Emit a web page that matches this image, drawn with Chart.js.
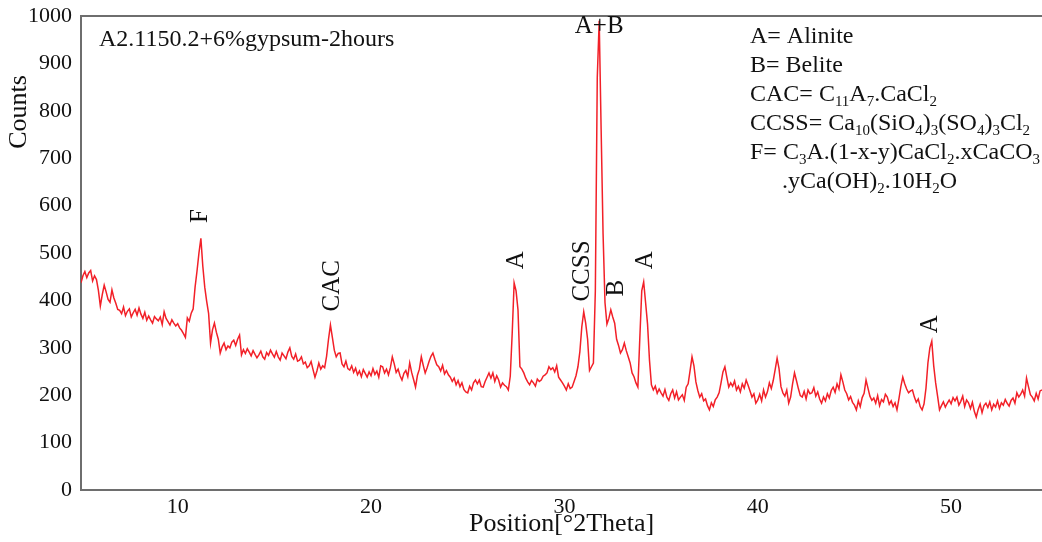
<!DOCTYPE html>
<html>
<head>
<meta charset="utf-8">
<script src="https://cdn.jsdelivr.net/npm/chart.js@4.4.1/dist/chart.umd.min.js"></script>
<style>
  html, body { margin: 0; padding: 0; background: #fff; }
  #wrap { width: 1042px; height: 542px; }
</style>
</head>
<body>
<div id="wrap"><canvas id="xrd" width="1042" height="542"></canvas></div>
<script>
// --- DATA (step 0.1 deg starting at 5.0 deg) ---
const START_2THETA = 5.0;
const STEP_2THETA = 0.1;
const counts = [
  437, 452, 461, 448, 458, 463, 441, 452, 444, 421,   // 5
  388, 412, 432, 418, 402, 396, 422, 405, 394, 381,   // 6
  379, 372, 386, 368, 377, 382, 365, 374, 381, 369,   // 7
  384, 371, 362, 375, 358, 367, 359, 352, 366, 361,   // 8
  357, 365, 349, 376, 362, 355, 348, 359, 352, 346,   // 9
  351, 342, 337, 330, 322, 363, 356, 373, 382, 428,   // 10
  462, 500, 531, 472, 428, 398, 372, 310, 338, 352,   // 11
  333, 318, 289, 302, 310, 296, 304, 300, 312, 316,   // 12
  305, 318, 327, 285, 296, 288, 298, 291, 283, 294,   // 13
  286, 279, 285, 293, 281, 276, 290, 284, 295, 287,   // 14
  280, 292, 281, 274, 289, 283, 277, 291, 300, 282,   // 15
  276, 287, 272, 274, 281, 266, 270, 258, 262, 271,   // 16
  254, 238, 251, 268, 255, 262, 258, 282, 318, 348,   // 17
  322, 295, 281, 288, 289, 266, 260, 272, 256, 253,   // 18
  262, 248, 257, 243, 251, 239, 254, 246, 238, 249,   // 19
  241, 256, 244, 251, 238, 262, 260, 247, 255, 243,   // 20
  258, 281, 266, 248, 255, 241, 232, 246, 252, 239,   // 21
  268, 248, 233, 217, 242, 255, 281, 263, 247, 258,   // 22
  271, 282, 289, 276, 264, 260, 251, 263, 245, 252,   // 23
  243, 238, 229, 236, 222, 231, 218, 226, 212, 207,   // 24
  205, 219, 211, 226, 232, 224, 232, 218, 217, 229,   // 25
  238, 247, 236, 247, 229, 241, 232, 217, 226, 221,   // 26
  218, 211, 240, 330, 437, 420, 380, 260, 255, 247,   // 27
  236, 228, 222, 231, 226, 219, 234, 229, 232, 240,   // 28
  243, 247, 260, 254, 258, 249, 262, 238, 232, 226,   // 29
  219, 211, 224, 214, 217, 229, 241, 260, 292, 344,   // 30
  376, 352, 318, 252, 260, 268, 420, 870, 990, 760,   // 31
  540, 395, 350, 362, 380, 365, 352, 318, 305, 289,   // 32
  296, 310, 294, 281, 268, 247, 239, 226, 217, 320,   // 33
  420, 439, 395, 350, 274, 222, 211, 219, 204, 213,   // 34
  205, 198, 212, 196, 189, 203, 211, 194, 207, 190,   // 35
  196, 201, 189, 217, 224, 252, 281, 262, 228, 210,   // 36
  196, 203, 188, 192, 178, 169, 184, 176, 190, 196,   // 37
  205, 226, 249, 260, 238, 217, 226, 219, 230, 211,   // 38
  219, 207, 224, 215, 232, 221, 209, 196, 203, 183,   // 39
  190, 202, 188, 211, 196, 207, 226, 214, 231, 254,   // 40
  278, 256, 218, 205, 198, 211, 183, 196, 224, 247,   // 41
  231, 214, 199, 196, 208, 192, 211, 203, 205, 216,   // 42
  198, 207, 192, 183, 196, 188, 203, 194, 210, 217,   // 43
  206, 224, 213, 243, 228, 211, 203, 190, 197, 185,   // 44
  179, 169, 188, 176, 195, 204, 232, 215, 198, 189,   // 45
  194, 183, 199, 178, 191, 186, 202, 196, 181, 188,   // 46
  176, 184, 169, 192, 218, 238, 224, 213, 205, 209,   // 47
  211, 196, 185, 192, 176, 169, 182, 215, 268, 300,   // 48
  314, 262, 226, 198, 169, 178, 186, 175, 183, 190,   // 49
  182, 195, 188, 196, 179, 187, 198, 176, 190, 184,   // 50
  172, 185, 166, 154, 170, 181, 163, 178, 183, 174,   // 51
  186, 169, 181, 175, 188, 172, 184, 179, 191, 183,   // 52
  177, 189, 194, 183, 205, 196, 202, 211, 198, 236,   // 53
  218, 201, 196, 188, 204, 192, 209, 211              // 54
];

const X_MIN = 5, X_MAX = 54.7;
const X_TICKS = [10, 20, 30, 40, 50];
const Y_MIN = 0, Y_MAX = 1000, Y_STEP = 100;

// peak annotations (data coordinates)
const PEAK_TEXT = ['F', 'CAC', 'A', 'CCSS', 'B', 'A', 'A'];
const PEAK_POS_X = [11.2, 17.98, 27.5, 30.92, 32.68, 34.18, 48.92];
const PEAK_POS_Y = [578, 431, 485, 462, 426, 485, 350];
const TOP_PEAK_TEXT = 'A+B';
const TOP_PEAK_X = 31.8, TOP_PEAK_Y = 979;

const SAMPLE_NAME = 'A2.1150.2+6%gypsum-2hours';
const KEY_LINES = [
  'A= Alinite',
  'B= Belite',
  'CAC= C_{11}A_{7}.CaCl_{2}',
  'CCSS= Ca_{10}(SiO_{4})_{3}(SO_{4})_{3}Cl_{2}',
  'F= C_{3}A.(1-x-y)CaCl_{2}.xCaCO_{3}',
  '.yCa(OH)_{2}.10H_{2}O'
];

const SERIF = '"Liberation Serif", "DejaVu Serif", serif';
const AXIS_GREY = '#6e6e6e';

// --- helpers ---
// draws text where "_{..}" marks a subscript
function drawRich(ctx, str, x, y, size) {
  const parts = str.split(/(_\{[^}]*\})/);
  let cx = x;
  ctx.textBaseline = 'alphabetic';
  ctx.textAlign = 'left';
  for (const p of parts) {
    if (!p) continue;
    if (p.startsWith('_{')) {
      const t = p.slice(2, -1);
      ctx.font = Math.round(size * 0.62) + 'px ' + SERIF;
      ctx.fillText(t, cx, y + size * 0.22);
      cx += ctx.measureText(t).width;
    } else {
      ctx.font = size + 'px ' + SERIF;
      ctx.fillText(p, cx, y);
      cx += ctx.measureText(p).width;
    }
  }
}

const decorPlugin = {
  id: 'decor',
  afterDraw(chart) {
    const ctx = chart.ctx;
    const area = chart.chartArea;
    const xs = chart.scales.x, ys = chart.scales.y;
    ctx.save();

    // top frame line
    ctx.strokeStyle = AXIS_GREY;
    ctx.lineWidth = 2;
    ctx.beginPath();
    ctx.moveTo(area.left, area.top);
    ctx.lineTo(area.right, area.top);
    ctx.stroke();

    ctx.fillStyle = '#111';

    // axis titles
    ctx.font = '26px ' + SERIF;
    ctx.textAlign = 'center';
    ctx.textBaseline = 'middle';
    ctx.fillText('Position[°2Theta]', (area.left + area.right) / 2, 524);
    ctx.save();
    ctx.translate(19, 112);
    ctx.rotate(-Math.PI / 2);
    ctx.fillText('Counts', 0, 0);
    ctx.restore();

    // sample name
    ctx.font = '24px ' + SERIF;
    ctx.textAlign = 'left';
    ctx.fillText(SAMPLE_NAME, 99, 40);

    // phase key
    KEY_LINES.forEach((line, i) => {
      const x = i === KEY_LINES.length - 1 ? 782 : 750;
      drawRich(ctx, line, x, 43 + i * 29, 24);
    });

    // peak labels (rotated)
    ctx.font = '25px ' + SERIF;
    ctx.textAlign = 'center';
    ctx.textBaseline = 'middle';
    PEAK_TEXT.forEach((t, i) => {
      const px = xs.getPixelForValue(PEAK_POS_X[i]);
      const py = ys.getPixelForValue(PEAK_POS_Y[i]);
      ctx.save();
      ctx.translate(px, py);
      ctx.rotate(-Math.PI / 2);
      ctx.fillText(t, 0, 0);
      ctx.restore();
    });
    ctx.fillText(TOP_PEAK_TEXT, xs.getPixelForValue(TOP_PEAK_X), ys.getPixelForValue(TOP_PEAK_Y));

    ctx.restore();
  }
};

const points = counts.map((c, i) => ({ x: START_2THETA + i * STEP_2THETA, y: c }));

new Chart(document.getElementById('xrd').getContext('2d'), {
  type: 'line',
  data: {
    datasets: [{
      label: 'scan',
      data: points,
      borderColor: 'rgb(242, 32, 40)',
      borderWidth: 1.5,
      pointRadius: 0,
      tension: 0,
      fill: false
    }]
  },
  options: {
    responsive: false,
    animation: false,
    layout: { padding: { top: 16, right: 0, left: 0, bottom: 0 } },
    plugins: { legend: { display: false }, tooltip: { enabled: false } },
    scales: {
      x: {
        type: 'linear',
        min: X_MIN, max: X_MAX,
        afterBuildTicks: (s) => { s.ticks = X_TICKS.map(v => ({ value: v })); },
        afterFit: (s) => { s.height = 52; s.paddingLeft = 0; s.paddingRight = 0; },
        grid: { drawOnChartArea: false, drawTicks: false },
        border: { color: AXIS_GREY, width: 2 },
        ticks: { color: '#111', padding: 4, font: { family: SERIF, size: 22 } }
      },
      y: {
        min: Y_MIN, max: Y_MAX,
        afterFit: (s) => { s.width = 81; s.paddingTop = 0; s.paddingBottom = 0; },
        grid: { drawOnChartArea: false, drawTicks: false },
        border: { color: AXIS_GREY, width: 2 },
        ticks: {
          stepSize: Y_STEP, color: '#111', padding: 9,
          font: { family: SERIF, size: 22 },
          callback: (v) => String(v)
        }
      }
    }
  },
  plugins: [decorPlugin]
});
</script>
</body>
</html>
